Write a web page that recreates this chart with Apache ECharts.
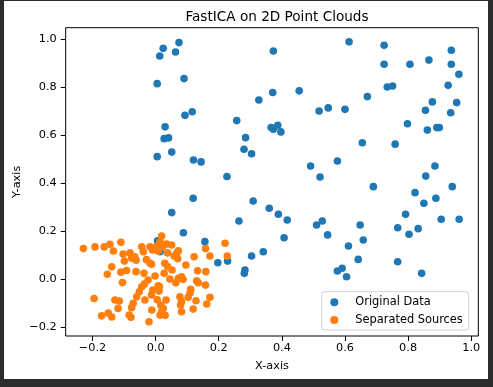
<!DOCTYPE html>
<html><head><meta charset="utf-8">
<script src="https://cdn.jsdelivr.net/npm/echarts@6/dist/echarts.min.js"></script>
<style>
html,body{margin:0;padding:0;background:#2d2d2d;width:493px;height:387px;overflow:hidden}
#bg{position:absolute;left:4px;top:1px;width:484px;height:378px;background:#fff}
#c{position:absolute;left:0;top:0;width:493px;height:387px}
</style></head><body>
<div id="bg"></div><div id="c"></div>
<script>
const titleText = "FastICA on 2D Point Clouds";
const xName = "X-axis", yName = "Y-axis";
const seriesNames = ["Original Data", "Separated Sources"];
const xTicks = [-0.2, 0.0, 0.2, 0.4, 0.6, 0.8, 1.0];
const yTicks = [-0.2, 0.0, 0.2, 0.4, 0.6, 0.8, 1.0];

const blueX = [0.074,0.024,0.063,0.013,0.090,0.005,0.116,0.093,0.030,0.027,0.041,0.051,0.005,0.120,0.144,0.226,
 0.613,0.724,0.937,0.373,0.866,0.724,0.806,0.937,0.961,0.734,0.751,0.927,0.371,0.455,0.671,0.327,0.877,0.954,
 0.855,0.935,0.518,0.547,0.600,0.257,0.798,0.366,0.387,0.373,0.397,0.861,0.891,0.899,0.285,0.280,0.304,0.655,
 0.759,0.491,0.576,0.885,0.856,0.521,0.690,0.940,0.822,0.850,0.888,0.792,0.905,0.962,0.767,0.832,0.803,0.510,
 0.528,0.545,0.648,0.658,0.611,0.360,0.389,0.417,0.407,0.309,0.264,0.119,0.051,0.088,0.156,0.006,0.197,0.228,
 0.283,0.281,0.304,0.341,0.642,0.576,0.591,0.605,0.767,0.843,0.014];
const blueY = [0.986,0.962,0.947,0.930,0.836,0.815,0.698,0.683,0.635,0.586,0.589,0.530,0.511,0.497,0.489,0.428,
 0.989,0.975,0.954,0.951,0.913,0.896,0.896,0.896,0.854,0.801,0.805,0.808,0.778,0.785,0.761,0.747,0.739,0.736,
 0.704,0.694,0.701,0.714,0.708,0.661,0.648,0.632,0.642,0.625,0.614,0.622,0.632,0.632,0.590,0.542,0.523,0.569,
 0.563,0.472,0.493,0.472,0.430,0.426,0.386,0.386,0.361,0.317,0.338,0.271,0.250,0.250,0.215,0.211,0.188,0.226,
 0.243,0.185,0.226,0.164,0.139,0.296,0.271,0.247,0.173,0.326,0.243,0.338,0.278,0.194,0.157,0.160,0.069,0.076,
 0.039,0.025,0.097,0.115,0.083,0.035,0.046,0.011,0.073,0.025,0.115];

const orangeX = [-0.229,-0.192,-0.163,-0.145,-0.134,-0.110,-0.103,-0.099,-0.139,-0.153,-0.110,-0.092,-0.105,-0.195,
 -0.129,-0.115,-0.119,-0.171,-0.150,-0.139,-0.084,-0.078,-0.071,-0.076,-0.060,-0.052,-0.044,-0.036,-0.021,-0.013,
 0.011,0.008,-0.066,-0.062,-0.062,-0.037,-0.044,-0.039,-0.018,-0.010,0.014,0.022,0.019,0.051,0.059,0.067,0.029,
 -0.013,0.038,0.027,0.045,0.064,0.072,0.082,0.087,0.122,0.133,0.159,0.130,0.135,0.158,0.111,0.109,0.077,0.103,
 0.172,0.128,0.082,0.079,0.082,0.119,0.162,0.016,0.024,0.019,0.014,0.220,0.227,0.172,0.158,0.072,-0.081,-0.029,
 -0.018,0.003,0.008,0.035,0.038,-0.009,-0.024,-0.002,0.052,0.096,0.033,-0.034,-0.012,-0.076,0.012,0.030,0.070,0.005];
const orangeY = [0.128,0.135,0.135,0.146,0.118,0.154,0.105,0.076,0.052,0.021,0.030,0.037,-0.013,-0.080,
 -0.086,-0.090,-0.121,-0.152,-0.140,-0.157,-0.149,-0.158,-0.100,-0.118,-0.073,-0.052,-0.031,-0.020,-0.177,-0.065,
 -0.049,-0.027,0.094,0.080,0.032,0.025,0.136,0.115,0.136,0.122,0.157,0.136,0.180,0.143,0.097,0.108,0.067,
 0.063,0.053,0.025,0.001,-0.014,0.004,0.011,0.000,0.094,0.036,0.032,-0.006,-0.014,-0.024,-0.042,-0.057,-0.073,-0.075,
 -0.075,-0.089,-0.093,-0.107,-0.135,-0.124,-0.103,-0.107,-0.121,-0.135,-0.149,0.150,0.097,0.097,0.128,0.119,0.110,0.082,
 0.068,0.138,0.117,0.147,0.110,-0.045,-0.003,0.014,0.039,0.060,-0.086,-0.086,-0.128,0.088,-0.030,-0.150,0.086,-0.085];

const fmt = v => (v < 0 ? '\u2212' : '') + Math.abs(v).toFixed(1);
const FONT = 'DejaVu Sans';
const chart = echarts.init(document.getElementById('c'), null, {renderer:'canvas'});
chart.setOption({
  animation: false,
  backgroundColor: 'transparent',
  textStyle: {fontFamily: FONT},
  title: {text: titleText, left: 272, top: 5, textAlign: 'center',
    textStyle: {fontFamily: FONT, fontSize: 13.6, fontWeight: 'normal', color: '#000'}},
  grid: {left: 65.7, right: 14.7, top: 27.7, bottom: 51, show: true, borderColor: '#000', borderWidth: 1, backgroundColor: 'transparent'},
  legend: {
    orient: 'vertical', left: 321.7, top: 291.7,
    padding: [3.6, 6, 3, 8.6], itemGap: 3.7, itemWidth: 14, itemHeight: 8, icon: 'circle',
    borderColor: '#d0d0d0', borderWidth: 1, borderRadius: 3, backgroundColor: 'rgba(255,255,255,0.8)',
    textStyle: {fontFamily: FONT, fontSize: 11.4, color: '#000', lineHeight: 14, padding: [0,0,0,9]},
    data: seriesNames
  },
  xAxis: {
    type: 'value', min: -0.285, max: 1.0225,
    name: xName, nameLocation: 'middle', nameGap: 25, nameMoveOverlap: false,
    nameTextStyle: {fontFamily: FONT, fontSize: 11.3, color: '#000'},
    axisLine: {show: false, onZero: false}, splitLine: {show: false},
    axisTick: {show: true, length: 5, lineStyle: {color: '#000', width: 1}, customValues: xTicks},
    axisLabel: {customValues: xTicks, formatter: fmt, margin: 7, fontFamily: FONT, fontSize: 11.3, color: '#000'}
  },
  yAxis: {
    type: 'value', min: -0.236, max: 1.048,
    name: yName, nameLocation: 'middle', nameGap: 43, nameMoveOverlap: false,
    nameTextStyle: {fontFamily: FONT, fontSize: 11.3, color: '#000'},
    axisLine: {show: false, onZero: false}, splitLine: {show: false},
    axisTick: {show: true, length: 5, lineStyle: {color: '#000', width: 1}, customValues: yTicks},
    axisLabel: {customValues: yTicks, formatter: fmt, margin: 9, fontFamily: FONT, fontSize: 11.3, color: '#000'}
  },
  series: [
    {name: seriesNames[0], type: 'scatter', symbolSize: 7.6, itemStyle: {color: '#1f77b4', opacity: 1},
     data: blueX.map((x, i) => [x, blueY[i]])},
    {name: seriesNames[1], type: 'scatter', symbolSize: 7.6, itemStyle: {color: '#ff7f0e', opacity: 1},
     data: orangeX.map((x, i) => [x, orangeY[i]])}
  ]
});
</script></body></html>
